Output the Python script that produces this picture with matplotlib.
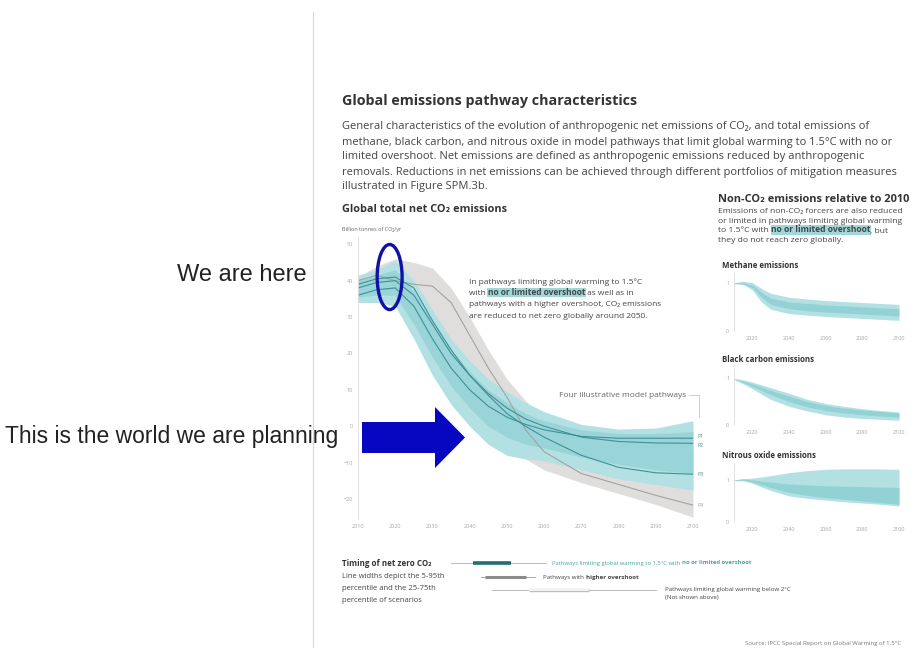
import matplotlib.pyplot as plt
from matplotlib.patches import Ellipse, Polygon

W, H = 914, 648

# main chart: global net CO2 (GtCO2/yr)
years = [2010, 2015, 2020, 2025, 2030, 2035, 2040, 2045, 2050, 2055, 2060, 2070, 2080, 2090, 2100]
teal_p95 = [41.5, 43, 45.5, 40, 32, 24, 18, 13, 9.5, 6.5, 4, 0.5, -0.8, -0.5, 1.5]
teal_p75 = [40, 41.5, 43, 37, 29, 21, 15, 10, 6.5, 3.5, 1.5, -1, -2, -2, -1.5]
teal_p25 = [35.5, 36, 36, 28, 19, 11, 5, 0, -3, -5, -6, -8.5, -10.5, -12, -13]
teal_p5 = [34, 34, 33, 24, 14, 6, 0, -5, -8, -9, -9.5, -12, -14.5, -16, -17.6]
gray_p95 = [41, 44, 46, 45, 43.5, 38, 30, 21, 13, 7, 2, -3, -5, -6, -7]
gray_p5 = [35, 35, 35, 33, 29, 21, 11, 3, -4, -9, -12, -15.5, -18.5, -21.5, -25]
p1 = [36, 37.5, 38, 33, 24, 16, 10, 5.5, 2.5, 0.5, -1, -2.8, -3.3, -3.3, -3.3]
p2 = [38, 39.5, 40, 36, 28, 20, 14, 9, 5, 2, 0, -3, -4.2, -4.6, -4.7]
p3 = [39, 40.5, 41, 38, 29, 21, 14, 8.5, 3.5, 0, -3, -8, -11.3, -12.8, -13.2]
p4 = [40, 41.5, 40, 39, 38.5, 34, 25, 16, 8, -1, -7, -13, -16, -19, -21.7]
main_xticks = [2010, 2020, 2030, 2040, 2050, 2060, 2070, 2080, 2090, 2100]
main_yticks = [-20, -10, 0, 10, 20, 30, 40, 50]

# non-CO2 panels, relative to 2010
nc_years = [2010, 2015, 2020, 2025, 2030, 2040, 2050, 2060, 2070, 2080, 2090, 2100]
ch4_p95 = [1.0, 1.03, 1.0, 0.88, 0.78, 0.7, 0.66, 0.63, 0.61, 0.59, 0.57, 0.55]
ch4_p75 = [0.99, 1.0, 0.95, 0.8, 0.68, 0.6, 0.57, 0.54, 0.52, 0.5, 0.48, 0.46]
ch4_p25 = [0.98, 0.98, 0.9, 0.7, 0.55, 0.46, 0.42, 0.39, 0.37, 0.35, 0.33, 0.31]
ch4_p5 = [0.98, 0.96, 0.85, 0.6, 0.45, 0.36, 0.33, 0.3, 0.28, 0.26, 0.24, 0.22]
bc_p95 = [1.0, 0.97, 0.92, 0.86, 0.8, 0.68, 0.55, 0.46, 0.4, 0.35, 0.31, 0.28]
bc_p75 = [0.99, 0.94, 0.88, 0.81, 0.74, 0.62, 0.5, 0.42, 0.36, 0.32, 0.29, 0.26]
bc_p25 = [0.98, 0.91, 0.83, 0.74, 0.65, 0.5, 0.39, 0.31, 0.26, 0.22, 0.19, 0.17]
bc_p5 = [0.98, 0.88, 0.78, 0.66, 0.55, 0.4, 0.3, 0.22, 0.17, 0.14, 0.12, 0.1]
n2o_p95 = [1.0, 1.03, 1.04, 1.07, 1.1, 1.17, 1.22, 1.25, 1.26, 1.26, 1.26, 1.25]
n2o_p75 = [1.0, 1.02, 1.0, 0.97, 0.95, 0.9, 0.88, 0.86, 0.85, 0.84, 0.83, 0.82]
n2o_p25 = [0.99, 0.99, 0.95, 0.88, 0.82, 0.7, 0.63, 0.58, 0.54, 0.5, 0.46, 0.42]
n2o_p5 = [0.98, 0.98, 0.92, 0.83, 0.75, 0.62, 0.56, 0.52, 0.48, 0.45, 0.42, 0.38]
nc_xticks = [2020, 2040, 2060, 2080, 2100]

# timing of net zero CO2: (p5, p25, p75, p95)
nz_15 = (2035, 2041, 2051, 2060.5)
nz_high = (2043, 2044, 2055, 2057.5)
nz_2c = (2046, 2056, 2072, 2090)

TEAL_OUT = "#b3e1e3"
TEAL_IN = "#84cbcf"
TEAL_LINE = "#3f9196"
GRAY_BAND = "#e0dddd"
GRAY_LINE = "#a3a3a3"
TXT = "#454545"
TICK = "#a8a8a8"
FONT = ["Open Sans", "DejaVu Sans"]


def box(l, t, r, b):
    return [l / W, 1 - b / H, (r - l) / W, (b - t) / H]


def style_axes(ax, xticks, yticks):
    for s in ["top", "right", "bottom"]:
        ax.spines[s].set_visible(False)
    ax.spines["left"].set_color("#dcdcdc")
    ax.spines["left"].set_linewidth(0.6)
    ax.set_xticks(xticks)
    ax.set_yticks(yticks)
    ax.tick_params(length=0, pad=3.5, labelsize=4, labelcolor=TICK)
    for lab in ax.get_xticklabels() + ax.get_yticklabels():
        lab.set_family(FONT)
    ax.patch.set_alpha(0)


def rich(ax, x, y, parts, size, color=TXT):
    prev = None
    for text, bold, hl in parts:
        kw = dict(fontsize=size, family=FONT, color=color,
                  fontweight="bold" if bold else "normal")
        if hl:
            kw["bbox"] = dict(boxstyle="square,pad=0.05", fc="#9fd7da", ec="none")
        if prev is None:
            prev = ax.text(x, y, text, ha="left", va="center", **kw)
        else:
            prev = ax.annotate(text, xy=(1, 0), xycoords=prev, ha="left", va="bottom", **kw)
    return prev


fig = plt.figure(figsize=(W / 100, H / 100), dpi=100)
fig.patch.set_facecolor("white")

# ---- main CO2 chart
ax = fig.add_axes(box(358, 237, 693, 519))
ax.fill_between(years, gray_p5, gray_p95, color=GRAY_BAND, lw=0)
ax.plot(years, p4, color=GRAY_LINE, lw=0.8)
ax.fill_between(years, teal_p5, teal_p95, color=TEAL_OUT, lw=0)
ax.fill_between(years, teal_p25, teal_p75, color=TEAL_IN, lw=0, alpha=0.55)
for p in (p1, p2, p3):
    ax.plot(years, p, color=TEAL_LINE, lw=0.8)
ax.set_xlim(2010, 2100)
ax.set_ylim(-25.5, 52)
style_axes(ax, main_xticks, main_yticks)

for name, series, col, dy in [("P1", p1, TEAL_LINE, 0.6), ("P2", p2, TEAL_LINE, -0.6),
                              ("P3", p3, TEAL_LINE, 0), ("P4", p4, GRAY_LINE, 0)]:
    ax.text(2101.3, series[-1] + dy, name, fontsize=3.8, color=col, family=FONT,
            va="center", ha="left", clip_on=False)
ax.text(2098.3, 8.5, "Four illustrative model pathways", fontsize=6, color="#666666",
        family=FONT, ha="right", va="center")
ax.plot([2098.8, 2101.6, 2101.6], [8.5, 8.5, 2.5], color="#bbbbbb", lw=0.5, clip_on=False)

# "we are here" marker
ax.add_patch(Ellipse((2018.5, 41), 6.7, 17.9, fill=False, ec="#1111a6", lw=2.4,
                     clip_on=False, zorder=8))

# ---- non-CO2 panels
panels = [
    ("Methane emissions", box(734, 273, 899, 331), 1.2, ch4_p5, ch4_p25, ch4_p75, ch4_p95, 265),
    ("Black carbon emissions", box(734, 369, 899, 425), 1.2, bc_p5, bc_p25, bc_p75, bc_p95, 360),
    ("Nitrous oxide emissions", box(734, 463, 899, 522), 1.4, n2o_p5, n2o_p25, n2o_p75, n2o_p95, 455),
]
for title, pos, top, lo, q1, q3, hi, ty in panels:
    a = fig.add_axes(pos)
    a.fill_between(nc_years, lo, hi, color=TEAL_OUT, lw=0)
    a.fill_between(nc_years, q1, q3, color=TEAL_IN, lw=0, alpha=0.7)
    a.set_xlim(2010, 2100)
    a.set_ylim(0, top)
    style_axes(a, nc_xticks, [0, 1])

# ---- timing of net zero
at = fig.add_axes(box(358, 555, 693, 598))
at.set_xlim(2010, 2100)
at.set_ylim(2.6, -0.6)
at.axis("off")
at.plot([nz_15[0], nz_15[3]], [0, 0], color="#7fc4c8", lw=0.6)
at.plot([nz_15[1], nz_15[2]], [0, 0], color="#226e73", lw=2.6, solid_capstyle="butt")
at.plot([nz_high[0], nz_high[3]], [1, 1], color="#9a9a9a", lw=0.6)
at.plot([nz_high[1], nz_high[2]], [1, 1], color="#8c8c8c", lw=2.2, solid_capstyle="butt")
at.plot([nz_2c[0], nz_2c[3]], [2, 2], color="#b0b0b0", lw=0.6)
at.plot([nz_2c[1], nz_2c[2]], [2, 2], color="#bdbdbd", lw=2.4, solid_capstyle="butt")
at.plot([nz_2c[1], nz_2c[2]], [2, 2], color="#f4f4f4", lw=1.4, solid_capstyle="butt")

# ---- overlay for text and slide annotations (pixel coordinates)
ov = fig.add_axes([0, 0, 1, 1], zorder=10)
ov.set_xlim(0, W)
ov.set_ylim(H, 0)
ov.axis("off")
ov.patch.set_alpha(0)

ov.plot([313, 313], [12, H], color="#d6d6d6", lw=0.8)

ov.text(342, 101, "Global emissions pathway characteristics", fontsize=10.3,
        fontweight="bold", family=FONT, color="#333333", va="center")
para = [
    "General characteristics of the evolution of anthropogenic net emissions of CO\u2082, and total emissions of",
    "methane, black carbon, and nitrous oxide in model pathways that limit global warming to 1.5\u00b0C with no or",
    "limited overshoot. Net emissions are defined as anthropogenic emissions reduced by anthropogenic",
    "removals. Reductions in net emissions can be achieved through different portfolios of mitigation measures",
    "illustrated in Figure SPM.3b.",
]
for i, line in enumerate(para):
    ov.text(342, 127 + 15 * i, line, fontsize=8.0, family=FONT, color=TXT, va="center")

ov.text(342, 210, "Global total net CO\u2082 emissions", fontsize=7.8, fontweight="bold",
        family=FONT, color="#333333", va="center")
ov.text(342, 229, "Billion tonnes of CO\u2082/yr", fontsize=4, family=FONT, color="#666666", va="center")

rich(ov, 469, 282, [("In pathways limiting global warming to 1.5\u00b0C", False, False)], 6)
rich(ov, 469, 293.5, [("with ", False, False), ("no or limited overshoot", True, True),
                      (" as well as in", False, False)], 6)
rich(ov, 469, 305, [("pathways with a higher overshoot, CO\u2082 emissions", False, False)], 6)
rich(ov, 469, 316.5, [("are reduced to net zero globally around 2050.", False, False)], 6)

ov.text(718, 199, "Non-CO\u2082 emissions relative to 2010", fontsize=7.9, fontweight="bold",
        family=FONT, color="#333333", va="center")
rich(ov, 718, 212, [("Emissions of non-CO\u2082 forcers are also reduced", False, False)], 6.1)
rich(ov, 718, 221.5, [("or limited in pathways limiting global warming", False, False)], 6.1)
rich(ov, 718, 231, [("to 1.5\u00b0C with ", False, False), ("no or limited overshoot", True, True),
                    (", but", False, False)], 6.1)
rich(ov, 718, 240.5, [("they do not reach zero globally.", False, False)], 6.1)
for title, pos, top, lo, q1, q3, hi, ty in panels:
    ov.text(722, ty, title, fontsize=5.7, fontweight="bold", family=FONT, color="#333333", va="center")

ov.text(342, 563, "Timing of net zero CO\u2082", fontsize=5.8, fontweight="bold", family=FONT,
        color="#333333", va="center")
for i, line in enumerate(["Line widths depict the 5-95th", "percentile and the 25-75th",
                          "percentile of scenarios"]):
    ov.text(342, 576 + 12 * i, line, fontsize=5.5, family=FONT, color=TXT, va="center")
rich(ov, 552, 563, [("Pathways limiting global warming to 1.5\u00b0C with ", False, False),
                    ("no or limited overshoot", True, False)], 4.2, color="#4aa3a8")
rich(ov, 543, 577, [("Pathways with ", False, False), ("higher overshoot", True, False)], 4.4)
ov.text(665, 590, "Pathways limiting global warming below 2\u00b0C", fontsize=4.4, family=FONT,
        color=TXT, va="center")
ov.text(665, 598, "(Not shown above)", fontsize=4.4, family=FONT, color=TXT, va="center")
ov.text(745, 644, "Source: IPCC Special Report on Global Warming of 1.5\u00b0C", fontsize=4.3,
        family=FONT, color="#777777", va="center", clip_on=False)

# slide annotations
ov.text(307, 275, "We are here", fontsize=17, family="Liberation Sans", color="#222222",
        ha="right", va="center")
ov.text(5, 437, "This is the world we are planning", fontsize=16.5, family="Liberation Sans",
        color="#222222", ha="left", va="center")
ov.add_patch(Polygon([(362, 422), (435, 422), (435, 407), (465, 437.5), (435, 468),
                      (435, 453), (362, 453)], closed=True, fc="#0707c2", ec="none"))

fig.savefig("out.png", dpi=100, facecolor="white")
